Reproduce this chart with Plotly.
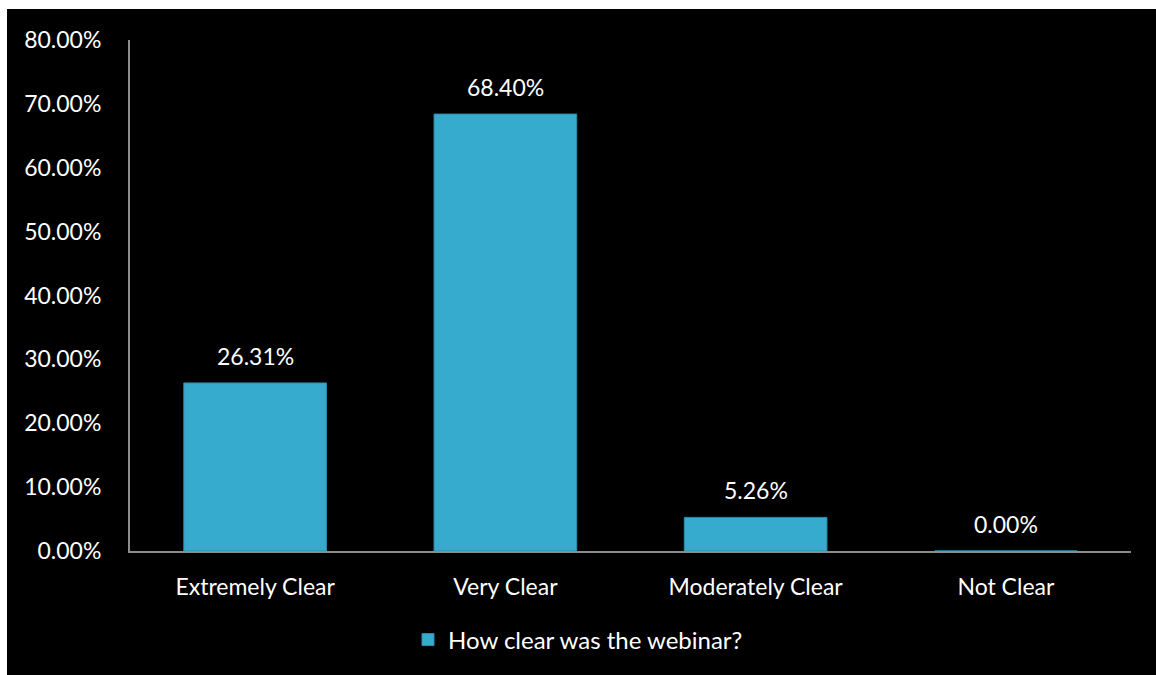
import plotly.graph_objects as go

categories = ["Extremely Clear", "Very Clear", "Moderately Clear", "Not Clear"]
values = [26.31, 68.40, 5.26, 0.00]
series_name = "How clear was the webinar?"
y_ticks = [0, 10, 20, 30, 40, 50, 60, 70, 80]
y_tick_labels = [f"{v:.2f}%" for v in y_ticks]
value_labels = [f"{v:.2f}%" for v in values]

FONT = "Lato"
FS = 23
W, H = 1159, 676
L, R, T, B = 123, 35, 31, 134
pw = W - L - R
ph = H - T - B

fig = go.Figure()
fig.add_trace(go.Bar(
    x=categories, y=values, name=series_name,
    marker=dict(color="#37abcd", line=dict(color="#2a8fae", width=1)),
    width=0.57, showlegend=True,
))

for c, v, lab in zip(categories, values, value_labels):
    fig.add_annotation(x=c, y=v, text=lab, showarrow=False, yshift=27,
                       font=dict(color="white", size=FS, family=FONT))

fig.update_layout(
    width=W, height=H,
    margin=dict(l=L, r=R, t=T, b=B, pad=0),
    paper_bgcolor="black", plot_bgcolor="black",
    font=dict(family=FONT, color="white", size=FS),
    bargap=0.43,
    legend=dict(orientation="h", x=(401 - L) / pw, xanchor="left",
                y=-(631 - (T + ph)) / ph, yanchor="middle",
                font=dict(size=24, color="white", family=FONT),
                bgcolor="rgba(0,0,0,0)"),
    xaxis=dict(showgrid=False, showline=True, linecolor="#8c8c8c", linewidth=2,
               ticks="", tickfont=dict(size=FS, color="white"),
               ticklabelstandoff=14),
    yaxis=dict(range=[0, 80], tickvals=y_ticks, ticktext=y_tick_labels,
               showgrid=False, showline=True, linecolor="#8c8c8c", linewidth=2,
               zeroline=False, ticks="", tickfont=dict(size=FS, color="white"),
               ticklabelstandoff=22),
)

fig.write_html(
    "out.html",
    post_script="document.body.style.margin='9px 0 0 7px';"
                "document.body.style.overflow='hidden';",
)
